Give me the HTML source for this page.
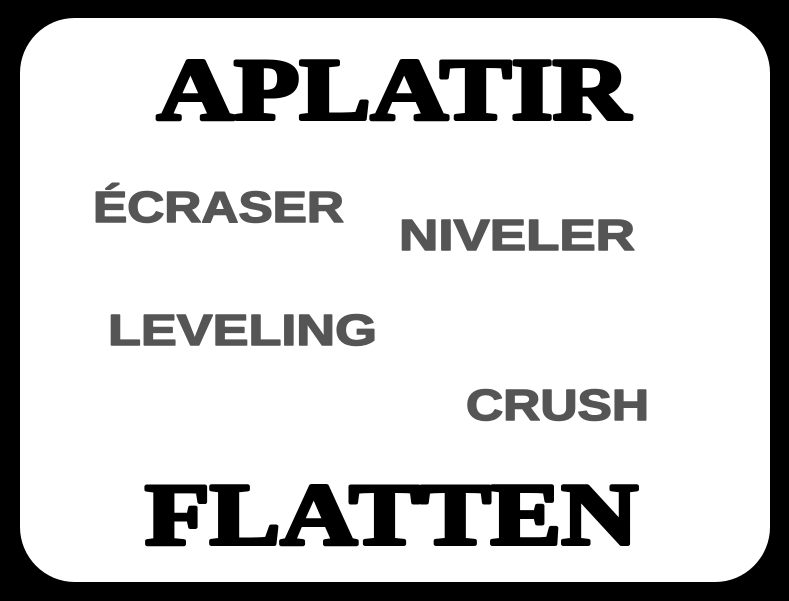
<!DOCTYPE html>
<html>
<head>
<meta charset="utf-8">
<style>
  html,body{margin:0;padding:0;background:#000;}
  svg{display:block;}
</style>
</head>
<body>
<svg width="789" height="601" viewBox="0 0 789 601" xmlns="http://www.w3.org/2000/svg">
  <rect x="0" y="0" width="789" height="601" fill="#000"/>
  <rect x="20" y="18" width="750" height="564" rx="55" ry="55" fill="#fff"/>
  <text x="157" y="119" font-family="'Liberation Serif', serif" font-weight="bold" font-size="88" fill="#000" stroke="#000" stroke-width="4" stroke-linejoin="round" textLength="473" lengthAdjust="spacingAndGlyphs">APLATIR</text>
  <g font-family="'Liberation Sans', sans-serif" font-weight="bold" font-size="44" fill="#555" stroke="#555" stroke-width="1.5" stroke-linejoin="round">
    <text x="93" y="222" textLength="251" lengthAdjust="spacingAndGlyphs">ÉCRASER</text>
    <text x="399" y="250" textLength="236" lengthAdjust="spacingAndGlyphs">NIVELER</text>
    <text x="108" y="345" textLength="269" lengthAdjust="spacingAndGlyphs">LEVELING</text>
    <text x="466" y="420" textLength="183" lengthAdjust="spacingAndGlyphs">CRUSH</text>
  </g>
  <text x="145" y="544" font-family="'Liberation Serif', serif" font-weight="bold" font-size="88" fill="#000" stroke="#000" stroke-width="4" stroke-linejoin="round" textLength="493" lengthAdjust="spacingAndGlyphs">FLATTEN</text>
</svg>
</body>
</html>
